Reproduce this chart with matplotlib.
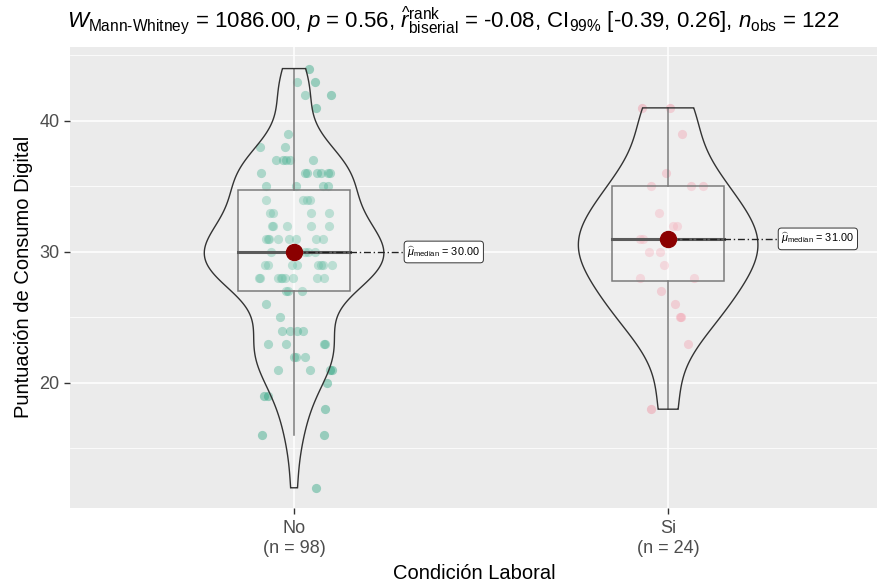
import numpy as np
import matplotlib
matplotlib.use("Agg")
import matplotlib.pyplot as plt
from matplotlib.patches import Polygon, Rectangle

plt.rcParams['font.family'] = ['Liberation Sans', 'DejaVu Sans']
plt.rcParams['mathtext.fontset'] = 'custom'
plt.rcParams['mathtext.rm'] = 'Liberation Sans'
plt.rcParams['mathtext.it'] = 'Liberation Sans:italic'
plt.rcParams['mathtext.bf'] = 'Liberation Sans:bold'

# Datos
groups = ['No', 'Si']
group_n = [98, 24]
point_colors = ['#1B9E77', '#F0879A']

no_scores = [44, 43, 43, 42, 42, 41, 39, 38, 38,
             37, 37, 37, 37, 37,
             36, 36, 36, 36, 36, 36, 36,
             35, 35, 35, 35,
             34, 34, 34, 34,
             33, 33, 33, 33,
             32, 32, 32, 32, 32,
             31, 31, 31, 31, 31, 31, 31, 31,
             30, 30, 30, 30, 30, 30, 30, 30,
             29, 29, 29, 29, 29, 29, 29, 29,
             28, 28, 28, 28, 28, 28, 28, 28, 28,
             27, 27, 27, 26, 25,
             24, 24, 24, 24,
             23, 23, 23, 23,
             22, 22, 22,
             21, 21, 21, 21,
             20, 19, 19, 18, 16, 16, 12]
# desplazamiento horizontal (jitter) de cada punto
no_jitter = [0.041, 0.009, 0.057, 0.029, 0.098, 0.059, -0.017, -0.091, -0.023,
             -0.049, -0.029, -0.022, -0.011, 0.050,
             -0.088, 0.029, 0.034, 0.061, 0.072, 0.092, 0.096,
             -0.074, 0.005, 0.077, 0.092,
             -0.074, 0.025, 0.034, 0.043,
             -0.064, -0.055, 0.045, 0.094,
             -0.058, -0.055, -0.020, 0.045, 0.094,
             -0.075, -0.070, -0.068, -0.042, -0.014, 0.005, 0.058, 0.078,
             -0.062, -0.012, -0.004, 0.006, 0.014, 0.029, 0.038, 0.056,
             -0.078, -0.071, -0.006, 0.009, 0.065, 0.071, 0.078, 0.101,
             -0.095, -0.091, -0.042, -0.036, -0.033, -0.024, -0.004, 0.062, 0.080,
             -0.022, -0.017, 0.021, -0.075, -0.037,
             -0.033, -0.011, 0.007, 0.025,
             -0.069, -0.021, 0.081, 0.084,
             0.001, 0.005, 0.029,
             -0.042, 0.043, 0.096, 0.101,
             0.087, -0.080, -0.069, 0.082, -0.086, 0.081, 0.059]

si_scores = [41, 41, 39, 36, 35, 35, 35, 33, 32, 32, 31, 31, 31,
             30, 30, 29, 28, 28, 27, 26, 25, 25, 23, 18]
si_jitter = [-0.070, 0.004, 0.036, -0.006, -0.045, 0.061, 0.092, -0.024, 0.014, 0.023,
             -0.075, -0.066, 0.002, -0.051, -0.021, -0.011, -0.075, 0.070, -0.019, 0.017,
             0.032, 0.035, 0.054, -0.046]

title = (r'$\mathit{W}_{\mathrm{Mann\text{-}Whitney}}$ = 1086.00, $\mathit{p}$ = 0.56, '
         r'$\widehat{r}_{\mathrm{biserial}}^{\mathrm{rank}}$ = -0.08, '
         r'CI$_{\mathrm{99\%}}$ [-0.39, 0.26], $\mathit{n}_{\mathrm{obs}}$ = 122')


def violin_outline(vals, adjust=1.0):
    # kde gaussiana (ancho de banda nrd0 * adjust), recortada al rango de los datos
    vals = np.asarray(vals, float)
    q75, q25 = np.percentile(vals, [75, 25])
    bw = adjust * 0.9 * min(vals.std(ddof=1), (q75 - q25) / 1.34) * len(vals) ** -0.2
    ys = np.linspace(vals.min(), vals.max(), 512)
    dens = np.exp(-0.5 * ((ys[:, None] - vals[None, :]) / bw) ** 2).sum(axis=1)
    return ys, dens / dens.max()


fig = plt.figure(figsize=(8.78, 5.82), dpi=100)
ax = fig.add_axes([70 / 878, 1 - 507.7 / 582, 808 / 878, 461 / 582])
ax.set_facecolor('#EBEBEB')

data = [(no_scores, no_jitter), (si_scores, si_jitter)]
for i, (scores, jit) in enumerate(data):
    x0 = i + 1
    vals = np.array(scores, float)

    # puntos
    ax.scatter(x0 + np.array(jit), vals, s=44, color=point_colors[i], alpha=0.4,
               linewidths=0, zorder=2)

    # caja
    q1, med, q3 = np.percentile(vals, [25, 50, 75])
    iqr = q3 - q1
    lo = vals[vals >= q1 - 1.5 * iqr].min()
    hi = vals[vals <= q3 + 1.5 * iqr].max()
    ax.add_patch(Rectangle((x0 - 0.15, q1), 0.3, q3 - q1, facecolor='white', alpha=0.2,
                           edgecolor='none', zorder=3))
    ax.add_patch(Rectangle((x0 - 0.15, q1), 0.3, q3 - q1, facecolor='none',
                           edgecolor='#5A5A5A', lw=1.1, zorder=3))
    ax.plot([x0, x0], [q3, hi], color='#5A5A5A', lw=1.1, zorder=3)
    ax.plot([x0, x0], [lo, q1], color='#5A5A5A', lw=1.1, zorder=3)
    ax.plot([x0 - 0.15, x0 + 0.15], [med, med], color='#333333', lw=2.2, zorder=3)

    # violin
    ys, dens = violin_outline(vals)
    half = 0.24 * dens
    xs = np.concatenate([x0 - half, (x0 + half)[::-1]])
    yy = np.concatenate([ys, ys[::-1]])
    ax.add_patch(Polygon(np.column_stack([xs, yy]), closed=True, facecolor='white',
                         alpha=0.2, edgecolor='none', zorder=4))
    ax.add_patch(Polygon(np.column_stack([xs, yy]), closed=True, facecolor='none',
                         edgecolor='#333333', lw=1.0, zorder=4))

    # mediana y etiqueta
    ax.plot([x0, x0 + 0.30], [med, med], color='#222222', lw=1.0,
            linestyle=(0, (5, 2, 1, 2)), zorder=5)
    ax.plot(x0, med, 'o', color='#8B0000', markersize=11.5, zorder=6)
    ax.text(x0 + 0.303, med, r'$\widehat{\mu}_{\mathrm{median}}$ = %.2f' % med,
            fontsize=7.8, ha='left', va='center', zorder=7,
            bbox=dict(boxstyle='round,pad=0.3,rounding_size=0.3', facecolor='white',
                      edgecolor='#333333', lw=0.7))

ax.set_xlim(0.401, 2.561)
ax.set_ylim(10.48, 45.67)
ax.set_xticks([1, 2])
ax.set_xticklabels(['%s\n(n = %d)' % (g, n) for g, n in zip(groups, group_n)])
ax.set_yticks([20, 30, 40])
ax.set_yticks([15, 25, 35, 45], minor=True)
ax.grid(True, which='major', color='white', lw=1.1)
ax.grid(True, which='minor', axis='y', color='white', lw=0.55)
ax.set_axisbelow(True)
for s in ax.spines.values():
    s.set_visible(False)
ax.tick_params(axis='both', which='major', color='#333333', length=4, width=1.0,
               labelcolor='#4D4D4D', labelsize=13)
ax.tick_params(axis='y', which='minor', length=0)
ax.tick_params(axis='x', pad=5)

ax.set_xlabel('Condición Laboral', fontsize=14.5, labelpad=5)
ax.set_ylabel('Puntuación de Consumo Digital', fontsize=14.5, labelpad=5)

fig.text(67 / 878, 1 - 27 / 582, title, fontsize=16, ha='left', va='baseline')

fig.savefig('out.png', dpi=100)
